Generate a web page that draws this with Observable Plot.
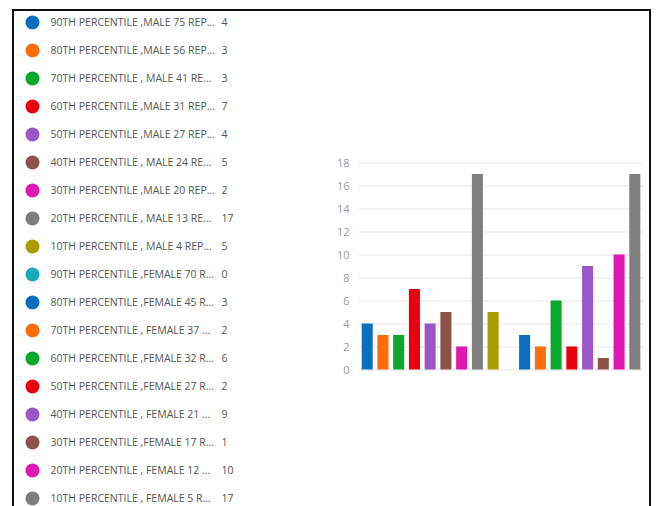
<!DOCTYPE html>
<html>
<head>
<meta charset="utf-8">
<script src="https://cdn.jsdelivr.net/npm/d3@7"></script>
<script src="https://cdn.jsdelivr.net/npm/@observablehq/plot@0.6"></script>
<style>
  html, body { margin: 0; padding: 0; background: #fff; }
  #page { position: relative; width: 656px; height: 506px; overflow: hidden; background: #fff; }
  #frame { position: absolute; left: 12px; top: 9px; width: 639px; height: 520px; border: 2px solid #111; box-sizing: border-box; }
  #legend, #chart { position: absolute; left: 0; top: 0; }
</style>
</head>
<body>
<div id="page">
  <div id="frame"></div>
  <div id="legend"></div>
  <div id="chart"></div>
</div>
<script>
// Series names (as shown, truncated) in legend order
const series = [
  "90TH PERCENTILE ,MALE 75 REP...",
  "80TH PERCENTILE ,MALE 56 REP...",
  "70TH PERCENTILE , MALE 41 RE...",
  "60TH PERCENTILE ,MALE 31 REP...",
  "50TH PERCENTILE ,MALE 27 REP...",
  "40TH PERCENTILE , MALE 24 RE...",
  "30TH PERCENTILE ,MALE 20 REP...",
  "20TH PERCENTILE , MALE 13 RE...",
  "10TH PERCENTILE , MALE 4 REP...",
  "90TH PERCENTILE ,FEMALE 70 R...",
  "80TH PERCENTILE ,FEMALE 45 R...",
  "70TH PERCENTILE , FEMALE 37 ...",
  "60TH PERCENTILE ,FEMALE 32 R...",
  "50TH PERCENTILE ,FEMALE 27 R...",
  "40TH PERCENTILE , FEMALE 21 ...",
  "30TH PERCENTILE ,FEMALE 17 R...",
  "20TH PERCENTILE , FEMALE 12 ...",
  "10TH PERCENTILE , FEMALE 5 R..."
];

// Count per series
const counts = [4, 3, 3, 7, 4, 5, 2, 17, 5, 0, 3, 2, 6, 2, 9, 1, 10, 17];

// Palette, cycling after ten entries
const palette = ["#0b6fbf", "#ff6d0a", "#0aa82c", "#e8000e", "#9b56c8",
                 "#8d5148", "#e018b3", "#7f7f7f", "#a89c00", "#18aab9"];
const colors = series.map((_, i) => palette[i % palette.length]);

// Y axis ticks
const yTicks = [0, 2, 4, 6, 8, 10, 12, 14, 16, 18];

const rows = series.map((s, i) => ({series: s, count: counts[i]}));

const font = "'Open Sans', 'Segoe UI', sans-serif";
const colorScale = {domain: series, range: colors};

// Legend: one row per series with swatch, name and value
const legend = Plot.plot({
  width: 250,
  height: 506,
  style: {fontFamily: font, fontSize: "10.5px", background: "transparent"},
  x: {axis: null, domain: [0, 1]},
  y: {type: "point", axis: null, domain: series, range: [22, 498], padding: 0, round: false},
  color: colorScale,
  marks: [
    Plot.dot(rows, {y: "series", fill: "series", r: 7, frameAnchor: "left", dx: 32}),
    Plot.text(rows, {y: "series", text: "series", frameAnchor: "left", dx: 50,
                     textAnchor: "start", fill: "#555"}),
    Plot.text(rows, {y: "series", text: d => String(d.count), frameAnchor: "left", dx: 221,
                     textAnchor: "start", fill: "#555"})
  ],
  marginLeft: 0, marginRight: 0, marginTop: 0, marginBottom: 0
});
document.getElementById("legend").appendChild(legend);

// Column chart: one bar per series
const chart = Plot.plot({
  width: 656,
  height: 400,
  marginLeft: 359,
  marginRight: 13,
  marginTop: 162.5,
  marginBottom: 30.5,
  style: {fontFamily: font, fontSize: "11px", background: "transparent"},
  x: {domain: series, axis: null, paddingInner: 0.3, paddingOuter: 0.17, round: false},
  y: {domain: [0, 18], ticks: yTicks, tickSize: 0, tickPadding: 10, label: null},
  color: colorScale,
  marks: [
    Plot.gridY(yTicks, {stroke: "#e6e6e6", strokeOpacity: 1}),
    Plot.axisY(yTicks, {tickSize: 0, tickPadding: 10, color: "#999", label: null}),
    Plot.barY(rows, {x: "series", y: "count", fill: "series"})
  ]
});
document.getElementById("chart").appendChild(chart);
</script>
</body>
</html>
